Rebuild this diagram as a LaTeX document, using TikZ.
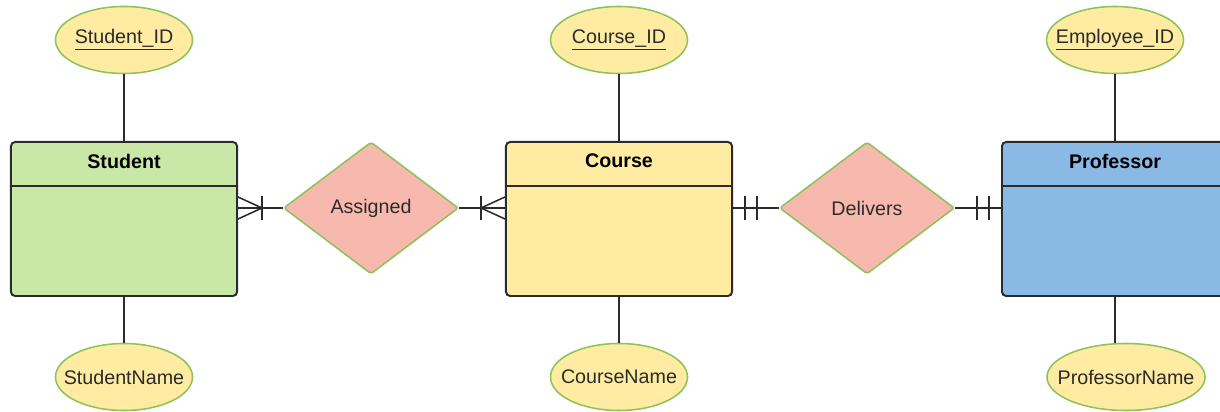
\documentclass[tikz,border=0pt]{standalone}
\usepackage{fontspec}
\setmainfont{Liberation Sans}
\usepackage{tikz}
\usetikzlibrary{calc,positioning,shapes.geometric}
\definecolor{entgreen}{HTML}{C9E8A8}
\definecolor{entyellow}{HTML}{FFEBA1}
\definecolor{entblue}{HTML}{8AB9E5}
\definecolor{relpink}{HTML}{F7B9AD}
\definecolor{leafgreen}{HTML}{8CC45A}
\definecolor{ink}{HTML}{2B2B2B}
\tikzset{
  entity/.style={
    rectangle,
    draw=ink,
    line width=1.4pt,
    rounded corners=3pt,
    minimum width=5.65cm,
    minimum height=3.85cm,
    inner sep=0pt
  },
  attribute/.style={
    ellipse,
    draw=leafgreen,
    line width=1.1pt,
    fill=entyellow,
    minimum width=3.425cm,
    minimum height=1.675cm,
    inner xsep=-0.5cm,
    inner ysep=0pt,
    text=ink
  },
  relation/.style={
    diamond,
    draw=leafgreen,
    line width=1.1pt,
    fill=relpink,
    rounded corners=2pt,
    minimum width=4.375cm,
    minimum height=3.3cm,
    inner sep=0pt,
    text=ink
  },
  title/.style={
    anchor=center,
    font=\fontsize{14}{17}\selectfont\bfseries,
    text=black
  },
  link/.style={
    draw=ink,
    line width=1.1pt
  }
}
% crow's foot (many) plus one bar; #1 = edge point, #2 = +1/-1 for right/left
\newcommand{\manymark}[2]{%
  \draw[link] ($(#1)+(0,11)$) -- ++(#2*24,-11) -- ($(#1)+(0,-11)$);
  \draw[link] ($(#1)+(#2*24,12)$) -- ++(0,-24);
}
% exactly one: two bars
\newcommand{\onemark}[2]{%
  \draw[link] ($(#1)+(#2*12,12)$) -- ++(0,-24);
  \draw[link] ($(#1)+(#2*24,12)$) -- ++(0,-24);
}

\begin{document}
\begin{tikzpicture}[x=0.025cm,y=0.025cm,font=\fontsize{14}{17}\selectfont]
  \useasboundingbox (0,0) rectangle (1220,412);

  % Entities
  \node[entity, fill=entgreen] (stu) at (124,193) {};
  \node[entity, fill=entyellow] (crs) at (619,193) {};
  \node[entity, fill=entblue] (prof) at (1115,193) {};
  \foreach \e/\t in {stu/Student, crs/Course, prof/Professor}{
    \draw[link, line width=1.4pt] ($(\e.north west)+(0,-45)$) -- ($(\e.north east)+(0,-45)$);
    \node[title] (\e-title) at ($(\e.north)+(0,-20)$) {\t};
  }

  % Attributes
  \node[attribute] (stu-id) at (124,372) {\underline{Student\_ID}};
  \node[attribute] (stu-name) at (124,35) {StudentName};
  \node[attribute] (crs-id) at (619,372) {\underline{Course\_ID}};
  \node[attribute] (crs-name) at (619,35) {CourseName};
  \node[attribute] (prof-id) at (1115,372) {\underline{Employee\_ID}};
  \node[attribute, minimum width=3.95cm] (prof-name) at (1126,35) {ProfessorName};

  \draw[link] (stu-id) -- (stu);
  \draw[link] (stu) -- (stu-name);
  \draw[link] (crs-id) -- (crs);
  \draw[link] (crs) -- (crs-name);
  \draw[link] (prof-id) -- (prof-id |- prof.north);
  \draw[link] (prof-id |- prof.south) -- (prof-id |- prof-name.north);

  % Relationships
  \node[relation] (asg) at (371,204) {Assigned};
  \node[relation] (dlv) at (867,204) {Delivers};

  \coordinate (stu-asg) at (stu.east |- asg.west);
  \coordinate (crs-asg) at (crs.west |- asg.east);
  \coordinate (crs-dlv) at (crs.east |- dlv.west);
  \coordinate (prof-dlv) at (prof.west |- dlv.east);

  \draw[link] (stu-asg) -- (asg.west);
  \draw[link] (asg.east) -- (crs-asg);
  \draw[link] (crs-dlv) -- (dlv.west);
  \draw[link] (dlv.east) -- (prof-dlv);

  \manymark{stu-asg}{1}
  \manymark{crs-asg}{-1}
  \onemark{crs-dlv}{1}
  \onemark{prof-dlv}{-1}
\end{tikzpicture}
\end{document}
